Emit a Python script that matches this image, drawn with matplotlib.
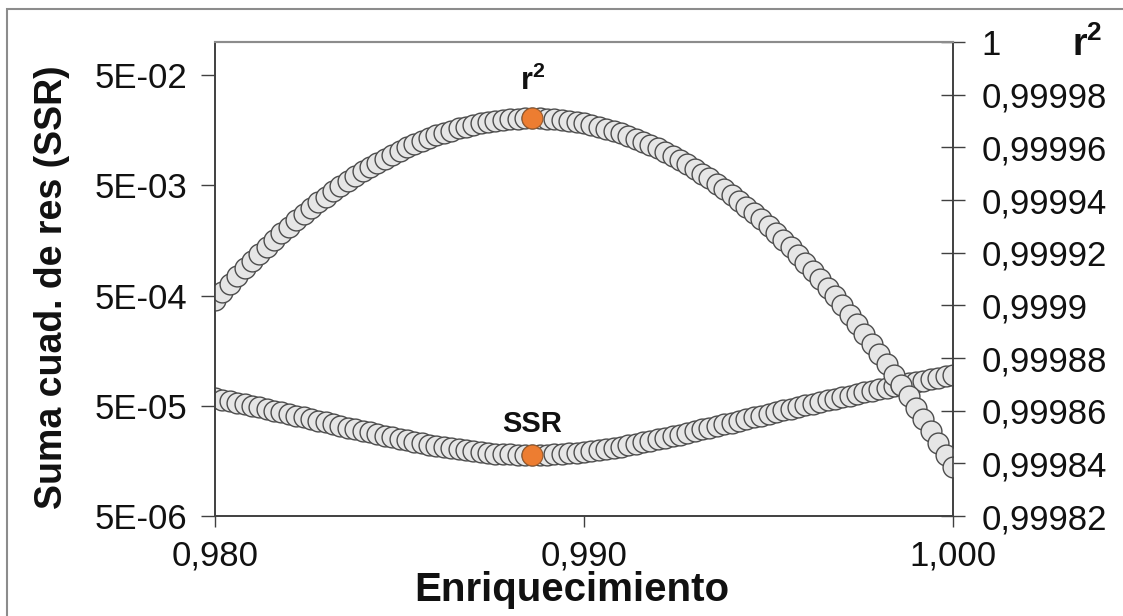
import matplotlib
matplotlib.use('Agg')
import matplotlib.pyplot as plt
from matplotlib.ticker import FixedLocator, FixedFormatter, NullLocator
from matplotlib.patches import Rectangle

plt.rcParams['font.family'] = ['Liberation Sans', 'DejaVu Sans']
plt.rcParams['mathtext.fontset'] = 'custom'
plt.rcParams['mathtext.rm'] = 'Liberation Sans'
plt.rcParams['mathtext.bf'] = 'Liberation Sans:bold'

# enrichment, step 0.0002 from 0.980 to 1.000
enriq = [round(0.980 + 0.0002 * k, 4) for k in range(101)]

# sum of squared residuals (left axis, log)
ssr = [5.889e-5, 5.701e-5, 5.517e-5, 5.337e-5, 5.162e-5, 4.991e-5, 4.825e-5, 4.663e-5, 4.506e-5, 4.353e-5,
       4.204e-5, 4.060e-5, 3.921e-5, 3.785e-5, 3.654e-5, 3.528e-5, 3.406e-5, 3.289e-5, 3.176e-5, 3.067e-5,
       2.963e-5, 2.863e-5, 2.768e-5, 2.677e-5, 2.590e-5, 2.508e-5, 2.431e-5, 2.358e-5, 2.289e-5, 2.225e-5,
       2.165e-5, 2.109e-5, 2.058e-5, 2.012e-5, 1.970e-5, 1.932e-5, 1.899e-5, 1.870e-5, 1.845e-5, 1.825e-5,
       1.810e-5, 1.799e-5, 1.792e-5, 1.790e-5, 1.792e-5, 1.800e-5, 1.811e-5, 1.828e-5, 1.849e-5, 1.876e-5,
       1.907e-5, 1.942e-5, 1.983e-5, 2.028e-5, 2.078e-5, 2.133e-5, 2.192e-5, 2.256e-5, 2.325e-5, 2.399e-5,
       2.478e-5, 2.561e-5, 2.649e-5, 2.742e-5, 2.839e-5, 2.941e-5, 3.048e-5, 3.160e-5, 3.277e-5, 3.398e-5,
       3.524e-5, 3.655e-5, 3.791e-5, 3.931e-5, 4.076e-5, 4.226e-5, 4.381e-5, 4.540e-5, 4.704e-5, 4.873e-5,
       5.047e-5, 5.225e-5, 5.409e-5, 5.596e-5, 5.789e-5, 5.987e-5, 6.189e-5, 6.396e-5, 6.607e-5, 6.824e-5,
       7.045e-5, 7.271e-5, 7.502e-5, 7.738e-5, 7.978e-5, 8.223e-5, 8.473e-5, 8.727e-5, 8.987e-5, 9.251e-5,
       9.519e-5]

# coefficient of determination (right axis)
r2 = [0.9999019, 0.9999050, 0.9999081, 0.9999110, 0.9999140, 0.9999168, 0.9999196, 0.9999222, 0.9999249, 0.9999274,
      0.9999299, 0.9999323, 0.9999347, 0.9999370, 0.9999392, 0.9999413, 0.9999434, 0.9999453, 0.9999472, 0.9999491,
      0.9999509, 0.9999526, 0.9999542, 0.9999557, 0.9999572, 0.9999586, 0.9999600, 0.9999612, 0.9999624, 0.9999635,
      0.9999645, 0.9999655, 0.9999663, 0.9999672, 0.9999679, 0.9999685, 0.9999691, 0.9999696, 0.9999700, 0.9999704,
      0.9999707, 0.9999708, 0.9999710, 0.9999710, 0.9999710, 0.9999708, 0.9999707, 0.9999704, 0.9999700, 0.9999696,
      0.9999691, 0.9999685, 0.9999678, 0.9999671, 0.9999663, 0.9999654, 0.9999644, 0.9999633, 0.9999621, 0.9999609,
      0.9999596, 0.9999582, 0.9999568, 0.9999552, 0.9999536, 0.9999518, 0.9999500, 0.9999482, 0.9999462, 0.9999441,
      0.9999420, 0.9999398, 0.9999375, 0.9999351, 0.9999327, 0.9999301, 0.9999275, 0.9999248, 0.9999220, 0.9999191,
      0.9999161, 0.9999130, 0.9999099, 0.9999067, 0.9999034, 0.9999000, 0.9998965, 0.9998929, 0.9998892, 0.9998855,
      0.9998817, 0.9998777, 0.9998737, 0.9998696, 0.9998655, 0.9998612, 0.9998568, 0.9998524, 0.9998478, 0.9998432,
      0.9998385]

best = 43  # index of the optimum (highlighted)

x_ticks = [0.980, 0.990, 1.000]
x_labels = ['0,980', '0,990', '1,000']
ssr_ticks = [5e-6, 5e-5, 5e-4, 5e-3, 5e-2]
ssr_labels = ['5E-06', '5E-05', '5E-04', '5E-03', '5E-02']
r2_ticks = [0.99982, 0.99984, 0.99986, 0.99988, 0.99990, 0.99992, 0.99994, 0.99996, 0.99998, 1.0]
r2_labels = ['0,99982', '0,99984', '0,99986', '0,99988', '0,9999', '0,99992', '0,99994', '0,99996', '0,99998', '1']

W, H = 1123, 616
fig = plt.figure(figsize=(W / 100, H / 100), dpi=100)
ax = fig.add_axes([215 / W, 1 - 516 / H, (953 - 215) / W, (516 - 42) / H])
ax2 = ax.twinx()

grey = '#e6e6e6'
edge = '#4d4d4d'
orange = '#ed7d31'
txt = '#111111'
ms = 15

ax.plot(enriq, ssr, 'o', ms=ms, mfc=grey, mec=edge, mew=1.0, zorder=2)
ax.plot(enriq[best], ssr[best], 'o', ms=ms, mfc=orange, mec='#9a5a2a', mew=0.8, zorder=3)
ax2.plot(enriq, r2, 'o', ms=ms, mfc=grey, mec=edge, mew=1.0, zorder=2)
ax2.plot(enriq[best], r2[best], 'o', ms=ms, mfc=orange, mec='#9a5a2a', mew=0.8, zorder=3)

ax.set_xlim(0.980, 1.000)
ax.set_yscale('log')
ax.set_ylim(5e-6, 1e-1)
ax2.set_ylim(0.99982, 1.0)

ax.xaxis.set_major_locator(FixedLocator(x_ticks))
ax.xaxis.set_major_formatter(FixedFormatter(x_labels))
ax.yaxis.set_major_locator(FixedLocator(ssr_ticks))
ax.yaxis.set_major_formatter(FixedFormatter(ssr_labels))
ax.yaxis.set_minor_locator(NullLocator())
ax2.yaxis.set_major_locator(FixedLocator(r2_ticks))
ax2.yaxis.set_major_formatter(FixedFormatter(r2_labels))

ax.tick_params(axis='x', direction='out', length=8, width=1, labelsize=25, colors='#404040', labelcolor=txt, pad=9)
ax.tick_params(axis='y', direction='out', length=10, width=1, labelsize=25, colors='#404040', labelcolor=txt, pad=10)
ax2.tick_params(axis='y', direction='inout', length=17, width=1, labelsize=25, colors='#404040', labelcolor=txt, pad=12)

for a in (ax, ax2):
    for s in ('left', 'bottom', 'right'):
        a.spines[s].set_color('#404040')
        a.spines[s].set_linewidth(1.2)
    a.spines['top'].set_color('#8c8c8c')
    a.spines['top'].set_linewidth(1.5)

r2_txt = r'$\mathbf{r}^{\mathbf{2}}$'
ax.text(enriq[best], 0.032, r2_txt, ha='center', va='bottom', fontsize=22, color=txt)
ax.text(enriq[best], 2.55e-5, 'SSR', ha='center', va='bottom', fontsize=21, fontweight='bold', color=txt)

fig.text(52 / W, 1 - 287 / H, 'Suma cuad. de res (SSR)', rotation=90, ha='center', va='center',
         fontsize=27, fontweight='bold', color=txt)
fig.text(572 / W, 1 - 590 / H, 'Enriquecimiento', ha='center', va='center',
         fontsize=29, fontweight='bold', color=txt)
fig.text(1087 / W, 1 - 45 / H, r2_txt, ha='center', va='center', fontsize=27, color=txt)

fig.patches.append(Rectangle((7 / W, -0.1), 1.2, 1 - 9 / H + 0.1, transform=fig.transFigure,
                             fill=False, edgecolor='#8c8c8c', linewidth=1.5))

fig.savefig('out.png', dpi=100)
